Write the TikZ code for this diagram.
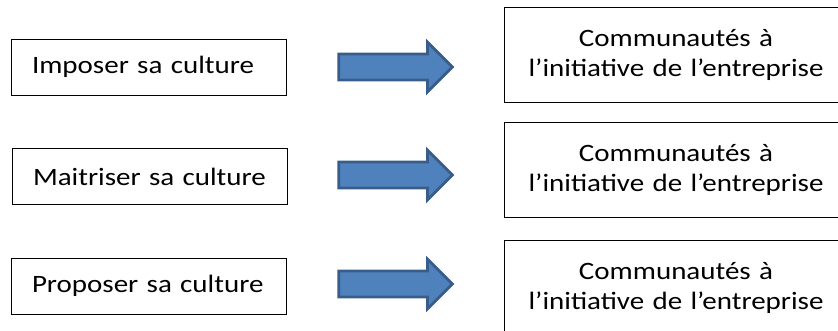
\documentclass[tikz,border=0pt]{standalone}
\usepackage{fontspec}
\setmainfont{Carlito}[FakeStretch=1.16]
\usepackage{tikz}
\usetikzlibrary{shapes.arrows}

\definecolor{arrowfill}{HTML}{4F81BD}
\definecolor{arrowline}{HTML}{385D8A}

\begin{document}
\begin{tikzpicture}[x=1pt,y=-1pt,
    leftbox/.style={draw,line width=0.9pt,minimum height=56pt,text width=233pt,
        inner xsep=21pt,align=left,font=\fontsize{25}{30}\selectfont},
    rightbox/.style={draw,line width=0.9pt,minimum height=95pt,text width=344pt,
        inner xsep=0pt,align=center,font=\fontsize{25}{30}\selectfont},
    bigarrow/.style={single arrow,draw=arrowline,fill=arrowfill,line width=2.8pt,
        minimum height=113.6pt,minimum width=0pt,inner xsep=0pt,inner ysep=11.6pt,
        single arrow head extend=12pt,anchor=tail}]
    \useasboundingbox (0,0) rectangle (838,331);

    \node[leftbox] (impose) at (148.5,67) {Imposer sa culture};
    \node[leftbox] (maitrise) at (149.5,176.5) {Maitriser sa culture};
    \node[leftbox] (propose) at (148.5,286) {Proposer sa culture};

    \node[bigarrow] (fleche1) at (337.4,67) {};
    \node[bigarrow] (fleche2) at (337.4,175) {};
    \node[bigarrow] (fleche3) at (337.4,284) {};

    \node[rightbox] (comm1) at (676,54.5) {Communautés à\\l’initiative de l’entreprise};
    \node[rightbox] (comm2) at (676,170) {Communautés à\\l’initiative de l’entreprise};
    \node[rightbox] (comm3) at (676,287.5) {Communautés à\\l’initiative de l’entreprise};
\end{tikzpicture}
\end{document}
